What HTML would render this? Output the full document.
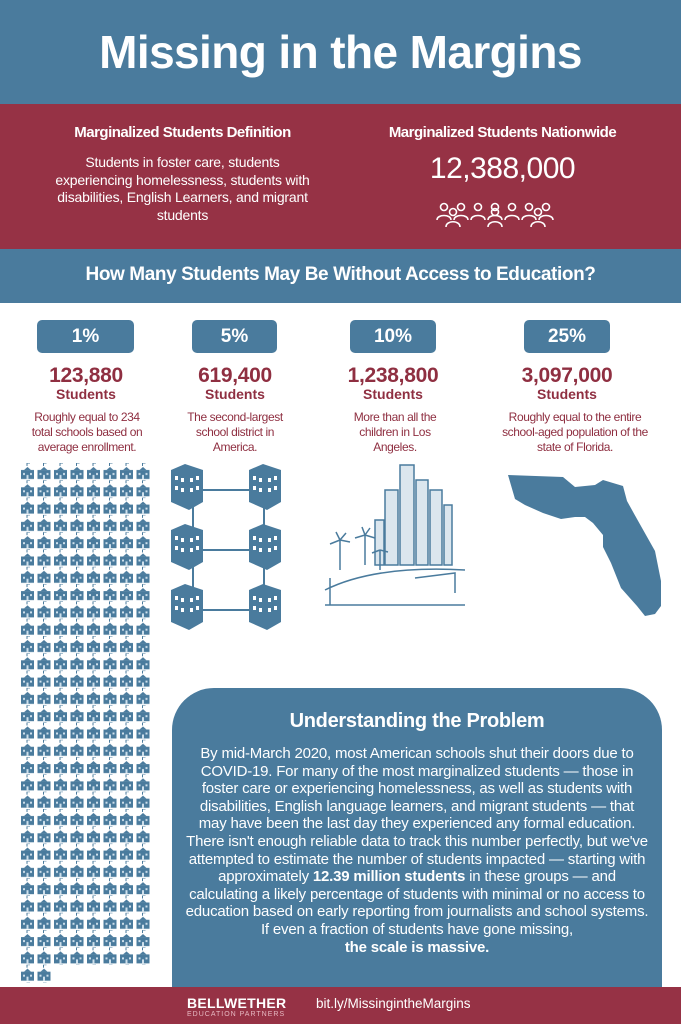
<!DOCTYPE html>
<html><head><meta charset="utf-8"><style>
*{margin:0;padding:0;box-sizing:border-box}
body{width:681px;height:1024px;position:relative;background:#fff;font-family:"Liberation Sans",sans-serif;overflow:hidden}
.abs{position:absolute}
.c{text-align:center}
.pill{position:absolute;top:320px;height:33px;background:#4a7b9d;border-radius:5px;color:#fff;font-weight:bold;font-size:19px;text-align:center;line-height:33px}
.num{position:absolute;top:364px;color:#8f2f41;font-weight:bold;font-size:21px;text-align:center;letter-spacing:-0.3px}
.num span{display:block;font-size:14px;margin-top:-2px;letter-spacing:0}
.desc{position:absolute;top:410px;color:#8f2f41;font-size:12px;line-height:15px;text-align:center;letter-spacing:-0.4px}
</style></head><body>
<div class="abs" style="left:0;top:0;width:681px;height:104px;background:#4a7b9d"></div>
<div class="abs c" style="left:0;top:25px;width:681px;color:#fff;font-weight:bold;font-size:46px;letter-spacing:-0.6px">Missing in the Margins</div>
<div class="abs" style="left:0;top:104px;width:681px;height:145px;background:#963245"></div>
<div class="abs c" style="left:40px;top:124px;width:285px;color:#fff;font-weight:bold;font-size:15px;letter-spacing:-0.5px">Marginalized Students Definition</div>
<div class="abs c" style="left:55px;top:154px;width:255px;color:#fff;font-size:14px;line-height:17.5px;letter-spacing:-0.2px">Students in foster care, students experiencing homelessness, students with disabilities, English Learners, and migrant students</div>
<div class="abs c" style="left:355px;top:124px;width:295px;color:#fff;font-weight:bold;font-size:15px;letter-spacing:-0.5px">Marginalized Students Nationwide</div>
<div class="abs c" style="left:355px;top:152px;width:295px;color:#fff;font-size:30px;letter-spacing:-0.5px">12,388,000</div>
<svg class="abs" style="left:436px;top:200px" width="134" height="30" viewBox="0 0 134 30" fill="none" stroke="#fff" stroke-width="1.6">
<g id="p"><circle cx="8" cy="7" r="3.5"/><path d="M1 20c0-6 14-6 14 0"/></g>
<use href="#p" x="17"/><use href="#p" x="34"/><use href="#p" x="51"/><use href="#p" x="68"/><use href="#p" x="85"/><use href="#p" x="102"/>
<g transform="translate(9,5)"><circle cx="8" cy="7" r="3.5"/><path d="M1 22c0-7 14-7 14 0"/></g>
<g transform="translate(51,5)"><circle cx="8" cy="7" r="3.5"/><path d="M1 22c0-7 14-7 14 0"/></g>
<g transform="translate(94,5)"><circle cx="8" cy="7" r="3.5"/><path d="M1 22c0-7 14-7 14 0"/></g>
</svg>
<div class="abs" style="left:0;top:249px;width:681px;height:54px;background:#4a7b9d"></div>
<div class="abs c" style="left:0;top:264px;width:681px;color:#fff;font-weight:bold;font-size:19px;letter-spacing:-0.4px">How Many Students May Be Without Access to Education?</div>

<div class="pill" style="left:37px;width:97px">1%</div>
<div class="pill" style="left:192px;width:85px">5%</div>
<div class="pill" style="left:350px;width:86px">10%</div>
<div class="pill" style="left:524px;width:86px">25%</div>
<div class="num" style="left:15px;width:142px">123,880<span>Students</span></div>
<div class="num" style="left:165px;width:140px">619,400<span>Students</span></div>
<div class="num" style="left:323px;width:140px">1,238,800<span>Students</span></div>
<div class="num" style="left:497px;width:140px">3,097,000<span>Students</span></div>
<div class="desc" style="left:24px;width:126px">Roughly equal to 234 total schools based on average enrollment.</div>
<div class="desc" style="left:185px;width:100px">The second-largest school district in America.</div>
<div class="desc" style="left:340px;width:110px">More than all the children in Los Angeles.</div>
<div class="desc" style="left:500px;width:150px">Roughly equal to the entire school-aged population of the state of Florida.</div>

<svg class="abs" style="left:20px;top:463px" width="135" height="520">
<defs><g id="s"><path d="M1 5h13v9H1z" fill="#4a7b9d"/><path d="M4 5l3.5-3 3.5 3z" fill="#4a7b9d"/><path d="M7 1V-2h3" stroke="#4a7b9d" fill="none"/><path d="M3 8h2v2H3zM10 8h2v2h-2zM6.5 10h2v4h-2z" fill="#cfe0ec"/></g>
<pattern id="sp" width="16.5" height="17.3" patternUnits="userSpaceOnUse"><use href="#s" y="2"/></pattern></defs>
<rect x="0" y="0" width="132" height="502" fill="url(#sp)"/>
<rect x="0" y="502" width="33" height="17.3" fill="url(#sp)"/>
</svg>

<svg class="abs" style="left:168px;top:462px" width="135" height="190" fill="#4a7b9d">
<g stroke="#4a7b9d" stroke-width="2" fill="none"><path d="M33 28h55M33 88h55M33 148h55M25 40v40M25 100v40M96 40v40M96 100v40"/></g>
<g id="b"><path d="M3 8l14-6 18 6v32l-14 8L3 40z"/><path d="M7 14h3v4H7zM13 16h3v4h-3zM7 24h3v4H7zM13 26h3v4h-3zM22 16h3v4h-3zM28 14h3v4h-3zM22 26h3v4h-3zM28 24h3v4h-3z" fill="#fff"/></g>
<use href="#b" x="78"/><use href="#b" y="60"/><use href="#b" x="78" y="60"/><use href="#b" y="120"/><use href="#b" x="78" y="120"/>
</svg>

<svg class="abs" style="left:320px;top:460px" width="150" height="150" fill="none" stroke="#4a7b9d" stroke-width="1.5">
<path d="M80 5h14v100H80zM96 20h12v85H96zM110 30h12v75h-12zM65 30h13v75H65zM124 45h8v60h-8zM55 60h9v45h-9z" fill="#dbe6ee"/>
<path d="M5 130q50-25 140-20M5 145h140M10 145V118M95 118l40-5v20" />
<path d="M20 110v-30M20 80l-10 4M20 80l10 2M20 80l-4-8M20 80l6-7M45 105v-30M45 75l-10 3M45 75l10 3M45 75l-3-8M45 75l5-7M60 110v-20M60 90l-8 3M60 90l8 2"/>
</svg>

<svg class="abs" style="left:505px;top:465px" width="160" height="165">
<path d="M3 10l55 2 12 10 20-2 8-5 20 6 4 15 10 18 18 32 6 30 0 25-6 8-10 2-8-10-16-18-10-25-8-16 0-12-10-12-8-6-10 0-14 2-18-6-18-8-10-6z" fill="#4a7b9d"/>
</svg>

<div class="abs" style="left:172px;top:688px;width:490px;height:300px;background:#4a7b9d;border-radius:42px 42px 0 0"></div>
<div class="abs c" style="left:172px;top:710px;width:490px;color:#fff;font-weight:bold;font-size:20px;letter-spacing:-0.3px">Understanding the Problem</div>
<div class="abs c" style="left:185px;top:745px;width:464px;color:#fff;font-size:15px;line-height:17.6px;letter-spacing:-0.2px">By mid-March 2020, most American schools shut their doors due to COVID-19. For many of the most marginalized students — those in foster care or experiencing homelessness, as well as students with disabilities, English language learners, and migrant students — that may have been the last day they experienced any formal education. There isn't enough reliable data to track this number perfectly, but we've attempted to estimate the number of students impacted — starting with approximately <b>12.39 million students</b> in these groups — and calculating a likely percentage of students with minimal or no access to education based on early reporting from journalists and school systems. If even a fraction of students have gone missing,<br><b>the scale is massive.</b></div>

<div class="abs" style="left:0;top:987px;width:681px;height:37px;background:#963245"></div>
<div class="abs" style="left:187px;top:995px;color:#fff;font-weight:bold;font-size:14px;letter-spacing:0.3px">BELLWETHER</div>
<div class="abs" style="left:187px;top:1011px;color:#e7b9c2;font-size:7px;letter-spacing:1px">EDUCATION PARTNERS</div>
<div class="abs" style="left:316px;top:996px;color:#fff;font-size:13.5px">bit.ly/MissingintheMargins</div>
</body></html>
